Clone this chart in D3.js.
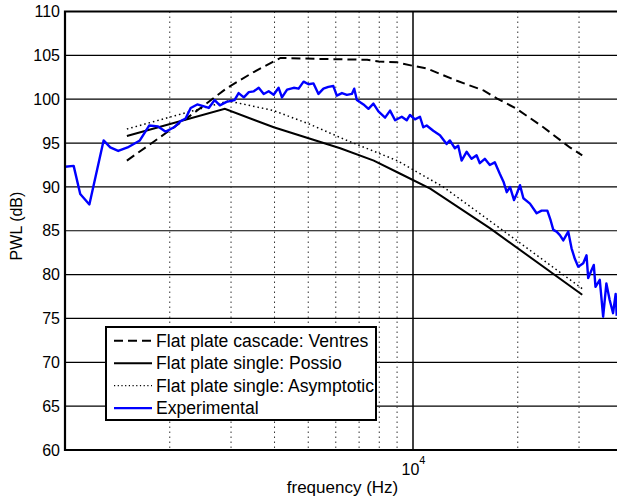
<!DOCTYPE html>
<html>
<head>
<meta charset="utf-8">
<script src="https://cdn.jsdelivr.net/npm/d3@7"></script>
<style>
  body { margin: 0; background: #fff; }
  svg { font-family: "Liberation Sans", Arial, Helvetica, sans-serif; display: block; }
</style>
</head>
<body>
<div id="chart"></div>
<script>
// values
const yTicks = [60, 65, 70, 75, 80, 85, 90, 95, 100, 105, 110];
const xMajorTicks = [10000];
const xMinorTicks = [2000, 3000, 4000, 5000, 6000, 7000, 8000, 9000, 20000, 30000];

const ventresFreq = [1506, 1960, 2322, 2926, 3486, 4159, 5308, 7382, 7974, 9000, 10000, 10966, 13373, 15945, 17406, 19861, 23688, 28230, 30640];
const ventresPWL = [93.0, 96.2, 98.3, 101.3, 103.1, 104.7, 104.6, 104.5, 104.3, 104.2, 103.8, 103.5, 102.1, 101.0, 100.1, 98.9, 96.8, 94.5, 93.6];

const possioFreq = [1506, 2879, 3979, 6178, 7716, 9196, 11209, 16624, 30640];
const possioPWL = [95.8, 98.9, 96.8, 94.4, 93.0, 91.5, 89.8, 85.3, 77.7];

const asymFreq = [1506, 2951, 3979, 5012, 6457, 9000, 12215, 17758, 30640];
const asymPWL = [96.6, 99.8, 98.7, 97.2, 95.3, 93.0, 90.0, 85.3, 78.4];

const expFreq = [1000, 1059, 1106, 1175, 1291, 1349, 1422, 1513, 1641, 1745, 1851, 1947, 2057, 2150, 2221, 2297, 2399, 2496, 2589, 2692,
  2786, 2911, 3070, 3154, 3265, 3375, 3487, 3603, 3724, 3848, 3977, 4110, 4202, 4347, 4542, 4692, 4848, 5010, 5177, 5350,
  5528, 5713, 5904, 6040, 6250, 6455, 6673, 6778, 6897, 7206, 7446, 7695, 7955, 8313, 8592, 8882, 9282, 9593, 9804, 10133,
  10473, 10703, 10946, 11433, 11951, 12492, 12765, 13195, 13488, 13792, 14256, 14735, 15230, 15560, 16083, 16624, 17180, 17758, 18197, 18596,
  19000, 19512, 19861, 20297, 20759, 21682, 22660, 23420, 24322, 24855, 25304, 25859, 26430, 27027, 27934, 28552, 29177, 29840, 30843, 31525,
  31874, 32578, 33077, 33450, 34411, 35190, 35949, 36740, 37577, 38225, 38500];
const expPWL = [92.3, 92.4, 89.2, 88.0, 95.3, 94.5, 94.1, 94.5, 95.3, 97.0, 96.9, 96.3, 96.8, 97.5, 97.8, 99.0, 99.4, 99.2, 99.0, 99.9,
  99.3, 99.7, 99.9, 100.7, 100.2, 100.8, 100.9, 101.3, 100.6, 100.9, 100.5, 101.3, 100.2, 101.1, 101.3, 101.2, 102.0, 101.7, 101.8, 100.6,
  101.2, 101.4, 101.5, 100.4, 100.7, 100.5, 100.6, 101.2, 99.9, 99.4, 98.9, 99.5, 98.6, 97.9, 98.7, 97.6, 98.0, 97.6, 98.2, 97.7,
  98.0, 96.8, 97.0, 96.4, 95.9, 94.9, 95.3, 94.4, 94.7, 93.0, 94.0, 93.2, 93.6, 92.7, 93.2, 92.5, 92.8, 91.5, 90.6, 89.4,
  90.0, 88.5, 89.2, 90.2, 88.7, 88.1, 87.0, 87.3, 87.3, 86.2, 85.1, 84.9, 84.5, 83.9, 84.9, 83.0, 81.8, 80.9, 81.3, 82.2,
  79.6, 80.5, 81.1, 78.6, 79.4, 75.2, 79.0, 77.1, 75.6, 77.8, 75.3];

const legendLabels = ["Flat plate cascade: Ventres", "Flat plate single: Possio", "Flat plate single: Asymptotic", "Experimental"];

// set the dimensions and margins of the graph
const width = 617, height = 500;
const margin = {top: 11.5, left: 65};
const plotBottom = 450;
const decade = 348;

const x = d3.scaleLog()
    .domain([1000, 40000])
    .range([margin.left, margin.left + decade * Math.log10(40)]);

const y = d3.scaleLinear()
    .domain([60, 110])
    .range([plotBottom, margin.top]);

const svg = d3.select("#chart")
    .append("svg")
    .attr("width", width)
    .attr("height", height);

svg.append("defs").append("clipPath")
    .attr("id", "plotClip")
    .append("rect")
    .attr("x", margin.left)
    .attr("y", margin.top)
    .attr("width", width - margin.left)
    .attr("height", plotBottom - margin.top);

// grid lines
svg.append("g")
    .selectAll("line")
    .data(yTicks.slice(1, -1))
    .join("line")
    .attr("x1", margin.left).attr("x2", width)
    .attr("y1", d => y(d)).attr("y2", d => y(d))
    .attr("stroke", "#000")
    .attr("stroke-width", 1.2);

svg.append("g")
    .selectAll("line")
    .data(xMinorTicks)
    .join("line")
    .attr("x1", d => x(d)).attr("x2", d => x(d))
    .attr("y1", margin.top).attr("y2", plotBottom)
    .attr("stroke", "#333")
    .attr("stroke-width", 1)
    .attr("stroke-dasharray", "1.5,3.5");

svg.append("g")
    .selectAll("line")
    .data(xMajorTicks)
    .join("line")
    .attr("x1", d => x(d)).attr("x2", d => x(d))
    .attr("y1", margin.top).attr("y2", plotBottom)
    .attr("stroke", "#000")
    .attr("stroke-width", 1.5);

// series
const line = d3.line()
    .x(d => x(d[0]))
    .y(d => y(d[1]));

const plot = svg.append("g").attr("clip-path", "url(#plotClip)");

plot.append("path")
    .datum(d3.zip(asymFreq, asymPWL))
    .attr("fill", "none")
    .attr("stroke", "#000")
    .attr("stroke-width", 1.5)
    .attr("stroke-dasharray", "1.5,3")
    .attr("d", line);

plot.append("path")
    .datum(d3.zip(possioFreq, possioPWL))
    .attr("fill", "none")
    .attr("stroke", "#000")
    .attr("stroke-width", 2)
    .attr("d", line);

plot.append("path")
    .datum(d3.zip(ventresFreq, ventresPWL))
    .attr("fill", "none")
    .attr("stroke", "#000")
    .attr("stroke-width", 2)
    .attr("stroke-dasharray", "9,5")
    .attr("d", line);

plot.append("path")
    .datum(d3.zip(expFreq, expPWL))
    .attr("fill", "none")
    .attr("stroke", "#0000ff")
    .attr("stroke-width", 2.4)
    .attr("stroke-linejoin", "round")
    .attr("d", line);

// Y axis
const yAxis = svg.append("g")
    .attr("transform", `translate(${margin.left},0)`)
    .call(d3.axisLeft(y).tickValues(yTicks).tickSize(0).tickPadding(5));
yAxis.select(".domain").remove();
yAxis.selectAll("text")
    .attr("font-size", 16)
    .attr("font-family", null)
    .attr("fill", "#000");

// X axis
const xAxis = svg.append("g")
    .attr("transform", `translate(0,${plotBottom})`)
    .call(d3.axisBottom(x).tickValues(xMajorTicks).tickSize(0).tickFormat(() => ""));
xAxis.select(".domain").remove();
xAxis.selectAll(".tick text")
    .attr("font-size", 16)
    .attr("font-family", null)
    .attr("fill", "#000")
    .attr("dy", null)
    .attr("y", 25)
    .each(function(d) {
      const t = d3.select(this);
      t.append("tspan").text("10");
      t.append("tspan").attr("font-size", 11).attr("dy", -11).text(Math.round(Math.log10(d)));
    });

// box lines
svg.append("path")
    .attr("d", `M${width},${margin.top}H${margin.left}V${plotBottom}H${width}`)
    .attr("fill", "none")
    .attr("stroke", "#000")
    .attr("stroke-width", 2.2);

// Add x-axis title
svg.append("text")
    .attr("x", 342.5)
    .attr("y", 493)
    .attr("text-anchor", "middle")
    .attr("font-size", 17)
    .text("frequency (Hz)");

// Add y-axis title
svg.append("text")
    .attr("transform", "translate(21.5,226) rotate(-90)")
    .attr("text-anchor", "middle")
    .attr("font-size", 16)
    .text("PWL (dB)");

// legend
const legend = svg.append("g");
legend.append("rect")
    .attr("x", 106).attr("y", 327)
    .attr("width", 270).attr("height", 93)
    .attr("fill", "#fff")
    .attr("stroke", "#000")
    .attr("stroke-width", 2);

const legendStyles = [
  {color: "#000", width: 2, dash: "9,5"},
  {color: "#000", width: 2, dash: null},
  {color: "#000", width: 1.2, dash: "1.2,2.5"},
  {color: "#0000ff", width: 2.2, dash: null}
];

legendLabels.forEach((label, i) => {
  const ly = 340.7 + i * 22.5;
  legend.append("line")
      .attr("x1", 114).attr("x2", 152)
      .attr("y1", ly).attr("y2", ly)
      .attr("stroke", legendStyles[i].color)
      .attr("stroke-width", legendStyles[i].width)
      .attr("stroke-dasharray", legendStyles[i].dash);
  legend.append("text")
      .attr("x", 156)
      .attr("y", ly + 6)
      .attr("font-size", 17.6)
      .text(label);
});
</script>
</body>
</html>
